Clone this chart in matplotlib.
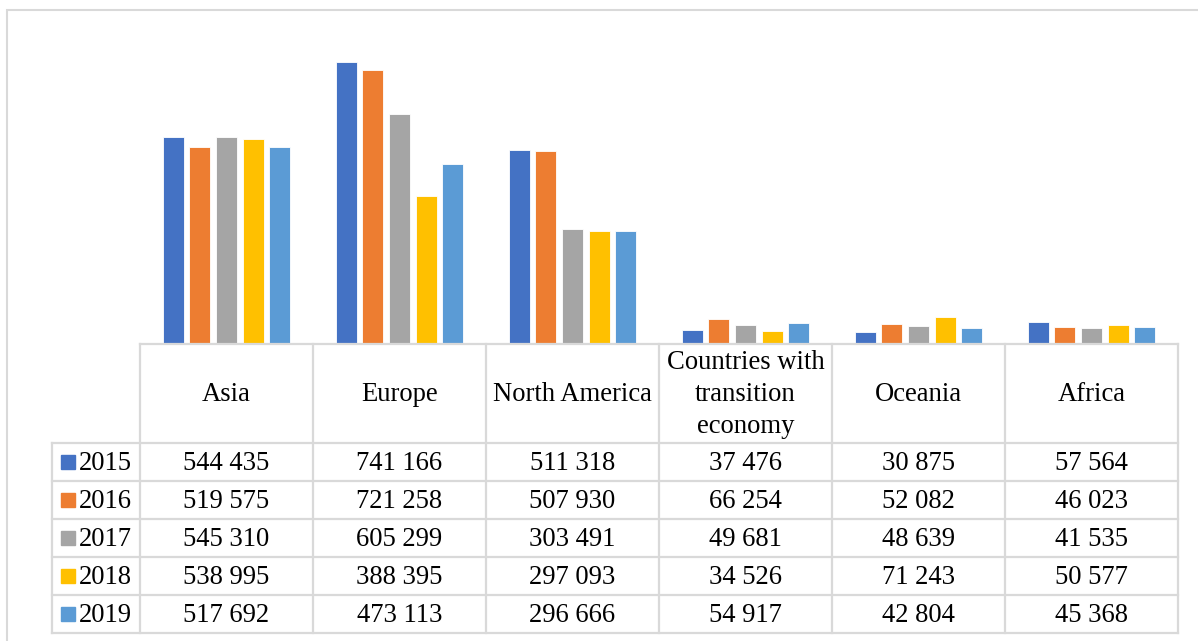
import matplotlib.pyplot as plt
from matplotlib.lines import Line2D
from matplotlib.patches import Rectangle

# ===== DATA =====
regions = ["Asia", "Europe", "North America",
           "Countries with\ntransition\neconomy", "Oceania", "Africa"]
years = ["2015", "2016", "2017", "2018", "2019"]
v2015 = [544435, 741166, 511318, 37476, 30875, 57564]
v2016 = [519575, 721258, 507930, 66254, 52082, 46023]
v2017 = [545310, 605299, 303491, 49681, 48639, 41535]
v2018 = [538995, 388395, 297093, 34526, 71243, 50577]
v2019 = [517692, 473113, 296666, 54917, 42804, 45368]
series = [v2015, v2016, v2017, v2018, v2019]
colors = ["#4472C4", "#ED7D31", "#A5A5A5", "#FFC000", "#5B9BD5"]

# ===== LAYOUT (pixels) =====
W, H = 1198, 641
X0, X1 = 140, 1178          # plot / table columns
LEG_X = 52                  # legend column left edge
Y_TOP, Y_BASE = 40, 344     # plot area top and baseline
Y_HEAD = 443                # bottom of header row
ROW_H = 38
GRID = "#D9D9D9"

plt.rcParams["font.family"] = ["Liberation Serif", "DejaVu Serif"]

def fx(x):
    return x / W

def fy(y):
    return 1 - y / H

fig = plt.figure(figsize=(W / 100, H / 100), dpi=100)

# outer chart border (runs off right and bottom edges)
fig.patches.append(Rectangle((fx(7), fy(H + 20)), fx(W + 20) - fx(7), fy(10) - fy(H + 20),
                             transform=fig.transFigure, fill=False,
                             edgecolor=GRID, linewidth=1.5))

ax = fig.add_axes([fx(X0), fy(Y_BASE), fx(X1) - fx(X0), fy(Y_TOP) - fy(Y_BASE)])
n = len(regions)
bw = 0.123
step = 0.154
for i, (vals, c) in enumerate(zip(series, colors)):
    xs = [k + 0.5 + (i - 2) * step for k in range(n)]
    ax.bar(xs, vals, width=bw, color=c, edgecolor="white", linewidth=0.6, zorder=2)
ax.set_xlim(0, n)
ax.set_ylim(0, 800000)
ax.axis("off")

# ===== DATA TABLE =====
def hline(x_a, x_b, y):
    fig.add_artist(Line2D([fx(x_a), fx(x_b)], [fy(y), fy(y)], color=GRID, linewidth=1.6))

def vline(x, y_a, y_b):
    fig.add_artist(Line2D([fx(x), fx(x)], [fy(y_a), fy(y_b)], color=GRID, linewidth=1.6))

col_w = (X1 - X0) / n
y_bottom = Y_HEAD + ROW_H * len(years)

hline(X0, X1, Y_BASE)
for r in range(len(years) + 1):
    hline(LEG_X, X1, Y_HEAD + r * ROW_H)
for k in range(n + 1):
    vline(X0 + k * col_w, Y_BASE, y_bottom)
vline(LEG_X, Y_HEAD, y_bottom)

fs = 19.2
for k, name in enumerate(regions):
    fig.text(fx(X0 + (k + 0.5) * col_w), fy((Y_BASE + Y_HEAD) / 2 + 1), name,
             ha="center", va="center", fontsize=fs, linespacing=1.35)

for r, (yr, vals, c) in enumerate(zip(years, series, colors)):
    yc = Y_HEAD + (r + 0.5) * ROW_H
    fig.patches.append(Rectangle((fx(61), fy(yc + 7)), fx(75) - fx(61), fy(yc - 7) - fy(yc + 7),
                                 transform=fig.transFigure, color=c))
    fig.text(fx(79), fy(yc + 1), yr, ha="left", va="center", fontsize=fs)
    for k, v in enumerate(vals):
        fig.text(fx(X0 + (k + 0.5) * col_w), fy(yc + 1), f"{v:,}".replace(",", " "),
                 ha="center", va="center", fontsize=fs)

fig.savefig("out.png", dpi=100, facecolor="white")
